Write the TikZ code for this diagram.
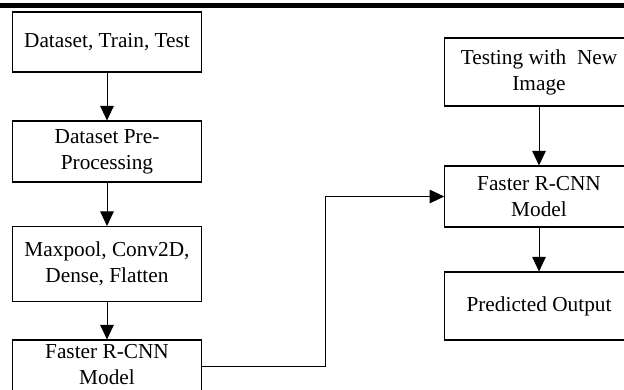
\documentclass[tikz,border=0pt]{standalone}
\usepackage{fontspec}
\setmainfont{Liberation Serif}
\usetikzlibrary{arrows.meta}
\begin{document}
\begin{tikzpicture}[x=1pt,y=-1pt,
  boxfont/.style={font=\fontsize{21.3}{26}\selectfont},
  box/.style={draw, line width=1.1pt, minimum width=188.5pt, align=center, inner sep=0pt, boxfont},
  arr/.style={line width=1pt, -{Triangle[length=14.5pt,width=13.5pt]}}]
\useasboundingbox (0,0) rectangle (624,389);
\clip (0,0) rectangle (624,389);
\fill[black] (0,3) rectangle (624,7.5);
% left column
\node[box, minimum height=60pt] (b1) at (107,42) {Dataset, Train, Test};
\node[box, minimum height=61pt] (b2) at (107,151.5) {Dataset Pre-\\Processing};
\node[box, minimum height=75pt] (b3) at (107,264) {Maxpool, Conv2D,\\Dense, Flatten};
\node[box, minimum height=58pt,
  label={[boxfont, align=center, inner sep=0pt, yshift=4pt]center:{Faster R-CNN\\Model}}]
  (b4) at (107,369) {};
% right column
\node[box, minimum height=68pt] (r1) at (539,72) {Testing with\ \ New\\Image};
\node[box, minimum height=61pt] (r2) at (539,196.5) {Faster R-CNN\\Model};
\node[box, minimum height=68pt] (r3) at (539,306) {Predicted Output};
\coordinate (bend) at (325,366);
% connectors
\draw[arr] (b1) -- (b2);
\draw[arr] (b2) -- (b3);
\draw[arr] (b3) -- (b4);
\draw[arr] (r1) -- (r2);
\draw[arr] (r2) -- (r3);
\draw[arr] ([yshift=3pt]b4.east) -- (bend) |- (r2.west);
\end{tikzpicture}
\end{document}
